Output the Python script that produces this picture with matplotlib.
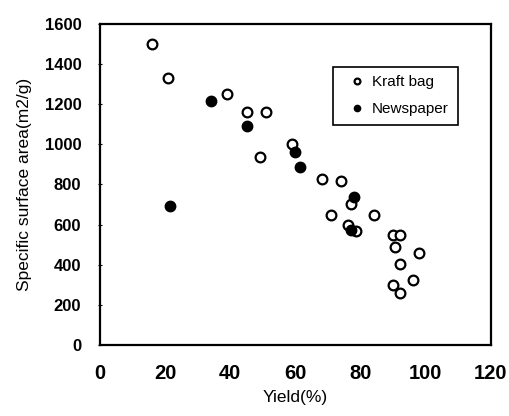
import matplotlib.pyplot as plt
import numpy as np

plt.rcParams['font.family'] = ['Liberation Sans', 'DejaVu Sans']

# Kraft bag (open circles)
kraft_yield = [16, 21, 39, 45, 51, 49, 59, 68, 74, 77, 71, 84, 76, 78.5,
               90, 92, 90.5, 98, 92, 96, 90, 92]
kraft_area = [1500, 1330, 1250, 1160, 1160, 935, 1000, 825, 815, 705, 650, 650,
              600, 570, 550, 550, 490, 460, 405, 325, 300, 258]

# Newspaper (filled circles)
news_yield = [34, 45, 21.5, 60, 61.5, 78, 77]
news_area = [1215, 1090, 695, 960, 885, 740, 575]

fig = plt.figure(figsize=(5.09, 4.16), dpi=100)
ax = fig.add_axes([0.1965, 0.1707, 0.768, 0.7716])

ax.plot(kraft_yield, kraft_area, 'o', ms=7, mfc='white', mec='black', mew=1.6,
        label='Kraft bag', zorder=3)
ax.plot(news_yield, news_area, 'o', ms=7.5, mfc='black', mec='black', mew=1,
        label='Newspaper', zorder=4)

ax.set_xlim(0, 120)
ax.set_ylim(0, 1600)
ax.set_xticks(np.arange(0, 121, 20))
ax.set_yticks(np.arange(0, 1601, 200))

for lbl in ax.get_xticklabels() + ax.get_yticklabels():
    lbl.set_fontweight('bold')
ax.tick_params(axis='x', length=0, pad=14, labelsize=14.5)
ax.tick_params(axis='y', length=3, direction='inout', pad=12, labelsize=12)

for s in ax.spines.values():
    s.set_linewidth(1.6)

ax.set_xlabel('Yield(%)', fontsize=12.5, labelpad=5)
ax.set_ylabel('Specific surface area(m2/g)', fontsize=12.5, labelpad=9)

leg = ax.legend(loc='upper left', bbox_to_anchor=(0.596, 0.866, 0.32, 0),
                mode='expand', borderaxespad=0, fontsize=11,
                markerscale=0.6, handlelength=2.0, handletextpad=0.0,
                fancybox=False, framealpha=1, edgecolor='black',
                borderpad=0.55, labelspacing=0.85)
leg.get_frame().set_linewidth(1.2)

fig.savefig('out.png', dpi=100)
